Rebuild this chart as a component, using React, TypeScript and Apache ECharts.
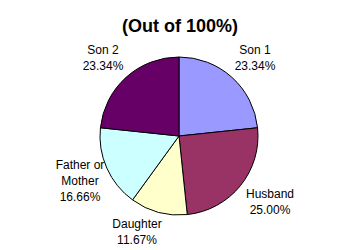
import React, { useEffect, useRef } from "react";
import * as echarts from "echarts";

const categories = ["Son 1", "Husband", "Daughter", "Father or\nMother", "Son 2"];
const values = [23.34, 25.0, 11.67, 16.66, 23.34];
const colors = ["#9999FF", "#993366", "#FFFFCC", "#CCFFFF", "#660066"];
const titleText = "(Out of 100%)";

// label anchor positions (centre of text block) in px
const labelPos: [number, number][] = [
  [255, 58],
  [270, 202],
  [137, 232],
  [80, 181],
  [103, 58],
];

export default function App() {
  const ref = useRef<HTMLDivElement>(null);
  useEffect(() => {
    if (!ref.current) return;
    const chart = echarts.init(ref.current, null, { renderer: "svg" });
    chart.setOption({
      animation: false,
      backgroundColor: "#FFFFFF",
      title: {
        text: titleText,
        left: 175,
        textAlign: "center",
        top: 12,
        textStyle: {
          fontFamily: "Liberation Sans, Arial, sans-serif",
          fontWeight: "bold",
          fontSize: 18,
          color: "#000000",
        },
      },
      series: [
        {
          type: "pie",
          center: [179, 136],
          radius: [0, 79],
          startAngle: 90,
          clockwise: true,
          avoidLabelOverlap: false,
          itemStyle: { borderColor: "#000000", borderWidth: 1 },
          labelLine: { show: false },
          label: {
            show: true,
            position: "outside",
            fontFamily: "Liberation Sans, Arial, sans-serif",
            fontSize: 12,
            lineHeight: 16,
            color: "#000000",
            align: "center",
            formatter: (p: any) => `${p.name}\n${p.value.toFixed(2)}%`,
          },
          labelLayout: (p: any) => {
            const pos = labelPos[p.dataIndex];
            return {
              x: pos[0],
              y: pos[1],
              align: "center",
              verticalAlign: "middle",
            };
          },
          data: categories.map((c, i) => ({
            name: c,
            value: values[i],
            itemStyle: { color: colors[i] },
          })),
        },
      ],
    });
    return () => chart.dispose();
  }, []);
  return (
    <div
      ref={ref}
      style={{ position: "fixed", left: 0, top: 0, width: 350, height: 250 }}
    />
  );
}
